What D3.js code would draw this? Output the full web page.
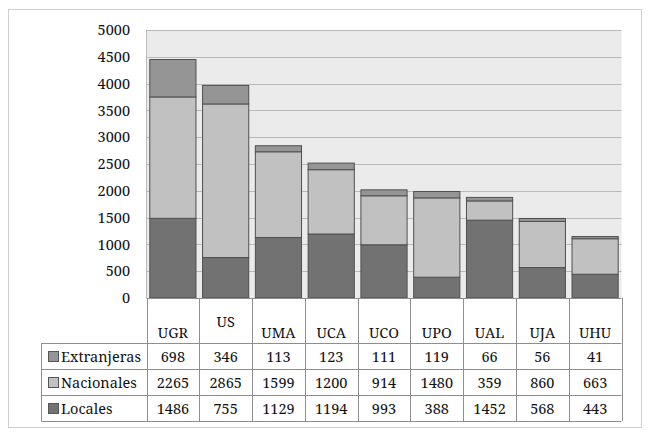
<!DOCTYPE html>
<html>
<head>
<meta charset="utf-8">
<script src="https://cdn.jsdelivr.net/npm/d3@7.9.0/dist/d3.min.js"></script>
</head>
<body style="margin:0; background:#fff">
<svg width="652" height="439"></svg>
<script>
// data
const universidades = ['UGR', 'US', 'UMA', 'UCA', 'UCO', 'UPO', 'UAL', 'UJA', 'UHU'];
const locales = [1486, 755, 1129, 1194, 993, 388, 1452, 568, 443];
const nacionales = [2265, 2865, 1599, 1200, 914, 1480, 359, 860, 663];
const extranjeras = [698, 346, 113, 123, 111, 119, 66, 56, 41];
const yTicks = [0, 500, 1000, 1500, 2000, 2500, 3000, 3500, 4000, 4500, 5000];

// series, stacked bottom to top; the table lists them top to bottom
const series = [
  { name: 'Locales', values: locales, color: '#727272' },
  { name: 'Nacionales', values: nacionales, color: '#c1c1c1' },
  { name: 'Extranjeras', values: extranjeras, color: '#959595' }
];

const svg = d3.select('svg')
  .style('font-family', "'Noto Serif', 'DejaVu Serif', serif")
  .style('font-size', '14.5px');

// outer frame
svg.append('rect')
  .attr('x', 8.5).attr('y', 9.5)
  .attr('width', 633).attr('height', 418)
  .attr('fill', '#fff').attr('stroke', '#cfcfcf');

const plotLeft = 146.5, plotRight = 621.5, plotTop = 30, plotBottom = 298;

const x = d3.scaleBand()
  .domain(universidades)
  .range([plotLeft, plotRight])
  .paddingInner(0.125)
  .paddingOuter(0.0625);

const y = d3.scaleLinear().domain([0, 5000]).range([plotBottom, plotTop]);

// plot background
svg.append('rect')
  .attr('x', plotLeft).attr('y', plotTop)
  .attr('width', plotRight - plotLeft).attr('height', plotBottom - plotTop)
  .attr('fill', '#ebebeb');

// gridlines
svg.append('g')
  .selectAll('line')
  .data(yTicks.filter(d => d > 0))
  .join('line')
  .attr('x1', plotLeft).attr('x2', plotRight)
  .attr('y1', d => Math.round(y(d)) + 0.5)
  .attr('y2', d => Math.round(y(d)) + 0.5)
  .attr('stroke', '#b9b9b9');

svg.append('line')
  .attr('x1', plotLeft).attr('x2', plotLeft)
  .attr('y1', plotTop).attr('y2', plotBottom)
  .attr('stroke', '#b9b9b9');

// y axis labels
const yAxis = d3.axisLeft(y).tickValues(yTicks).tickFormat(d3.format('d')).tickSize(0).tickPadding(0);
const yg = svg.append('g').attr('transform', 'translate(130,0)').call(yAxis);
yg.attr('font-family', null).attr('font-size', null);
yg.select('.domain').remove();
yg.selectAll('text').attr('fill', '#111');

// stacked bars
const rows = universidades.map((u, i) => {
  const r = { uni: u };
  series.forEach(s => { r[s.name] = s.values[i]; });
  return r;
});
const stack = d3.stack().keys(series.map(s => s.name))(rows);

stack.forEach((layer, k) => {
  svg.append('g')
    .selectAll('rect')
    .data(layer)
    .join('rect')
    .attr('x', d => x(d.data.uni))
    .attr('y', d => y(d[1]))
    .attr('width', x.bandwidth())
    .attr('height', d => y(d[0]) - y(d[1]))
    .attr('fill', series[k].color)
    .attr('stroke', '#505050')
    .attr('stroke-width', 1);
});

// data table
const tableLeft = 41.5;
const headerBottom = 343;
const rowH = 26;
const colW = x.step();
const colEdges = universidades.map((u, i) => plotLeft + i * colW).concat([plotRight]);
const tableBottom = headerBottom + rowH * series.length;
const lineColor = '#8e8e8e';

const grid = svg.append('g').attr('stroke', lineColor).attr('stroke-width', 1);
grid.append('line').attr('x1', plotLeft).attr('x2', plotRight).attr('y1', plotBottom + 0.5).attr('y2', plotBottom + 0.5);
for (let r = 0; r <= series.length; r++) {
  const yy = headerBottom + r * rowH + 0.5;
  grid.append('line').attr('x1', tableLeft).attr('x2', plotRight).attr('y1', yy).attr('y2', yy);
}
colEdges.forEach(cx => {
  grid.append('line').attr('x1', Math.round(cx) + 0.5).attr('x2', Math.round(cx) + 0.5)
    .attr('y1', plotBottom).attr('y2', tableBottom);
});
grid.append('line').attr('x1', tableLeft).attr('x2', tableLeft).attr('y1', headerBottom).attr('y2', tableBottom);

// category headers (US sits higher in the reference)
svg.append('g')
  .selectAll('text')
  .data(universidades)
  .join('text')
  .attr('x', d => x(d) + x.bandwidth() / 2)
  .attr('y', d => d === 'US' ? 327 : 338)
  .attr('text-anchor', 'middle')
  .attr('fill', '#111')
  .text(d => d);

// table rows: top row is the last stacked series
const tableSeries = series.slice().reverse();
tableSeries.forEach((s, r) => {
  const rowTop = headerBottom + r * rowH;
  const g = svg.append('g').attr('fill', '#111');
  g.append('rect')
    .attr('x', 48.5).attr('y', rowTop + 8.5)
    .attr('width', 10).attr('height', 10)
    .attr('fill', s.color).attr('stroke', '#555');
  g.append('text')
    .attr('x', 61).attr('y', rowTop + 19)
    .text(s.name);
  g.selectAll('text.val')
    .data(s.values)
    .join('text')
    .attr('class', 'val')
    .attr('x', (d, i) => x(universidades[i]) + x.bandwidth() / 2)
    .attr('y', rowTop + 19)
    .attr('text-anchor', 'middle')
    .text(d => d);
});
</script>
</body>
</html>
